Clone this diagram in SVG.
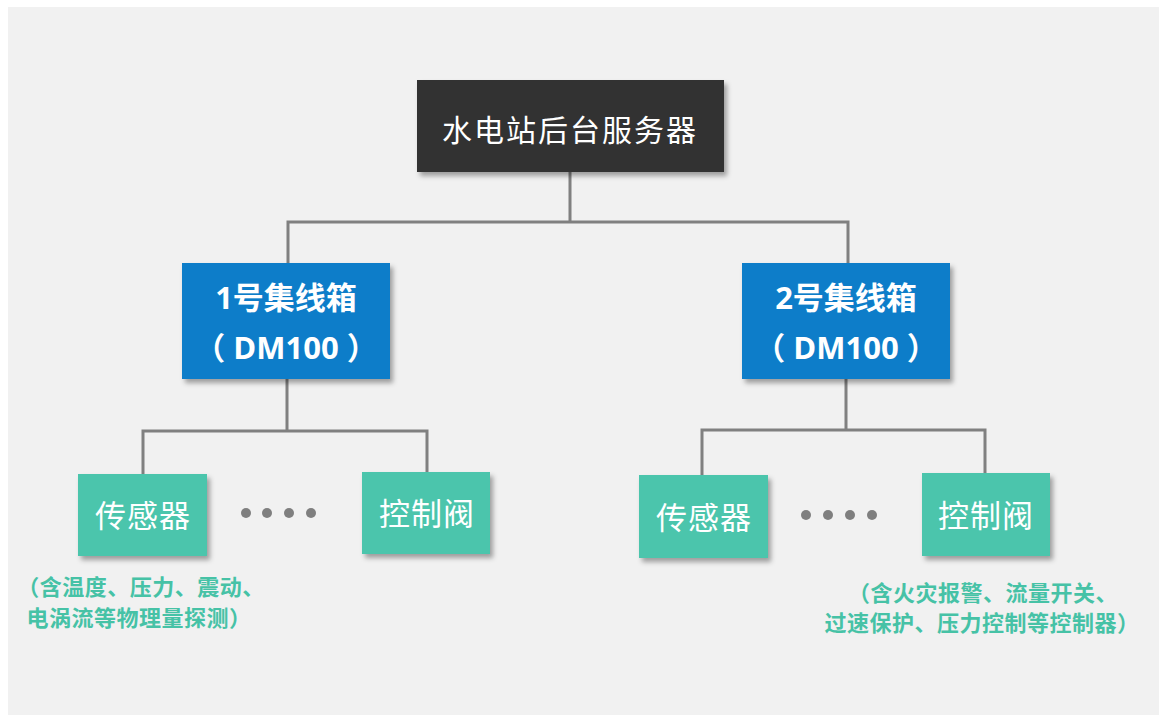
<svg xmlns="http://www.w3.org/2000/svg" width="1159" height="715" viewBox="0 0 1159 715">
<defs>
<filter id="sh" x="-10%" y="-10%" width="125%" height="130%">
<feDropShadow dx="3" dy="4" stdDeviation="2.5" flood-color="#000" flood-opacity="0.35"/>
</filter>
<style>
.bg{fill:#f1f1f1}
.dark{fill:#333333}
.blue{fill:#0a7dc9}
.teal{fill:#4bc5ac}
.conn{fill:none;stroke:#808080;stroke-width:3}
.dot{fill:#7f7f7f}
.t{font-family:"Noto Sans CJK SC","Noto Sans",sans-serif;fill:#ffffff;text-anchor:middle}
.tb{font-family:"Open Sans","Noto Sans CJK SC",sans-serif;font-weight:bold;fill:#ffffff;text-anchor:middle;font-size:31px}
.note{font-family:"Noto Sans CJK SC",sans-serif;font-weight:bold;fill:#46c2a6;text-anchor:middle;font-size:22px;letter-spacing:0.5px}
</style>
</defs>
<rect class="bg" x="8" y="7" width="1151" height="708"/>
<g id="connectors">
<path class="conn" d="M570 172V222M288 263V222H848V263"/>
<path class="conn" d="M287 379V431M143 474V431H427V472"/>
<path class="conn" d="M846 379V430M702 476V430H985V473"/>
</g>
<g id="server">
<rect class="dark" x="417" y="80" width="307" height="92" filter="url(#sh)"/>
<text class="t" x="570" y="141" font-size="30" letter-spacing="2">水电站后台服务器</text>
</g>
<g id="hub1">
<rect class="blue" x="182" y="263" width="208" height="116" filter="url(#sh)"/>
<text class="tb" x="286" y="309">1号集线箱</text>
<text class="tb" x="286" y="359">（ DM100 ）</text>
</g>
<g id="hub2">
<rect class="blue" x="742" y="263" width="208" height="116" filter="url(#sh)"/>
<text class="tb" x="846" y="309">2号集线箱</text>
<text class="tb" x="846" y="359">（ DM100 ）</text>
</g>
<g id="sensor1">
<rect class="teal" x="78" y="474" width="129" height="82" filter="url(#sh)"/>
<text class="t" x="143" y="527" font-size="31" letter-spacing="1">传感器</text>
</g>
<g id="dots1">
<circle class="dot" cx="246" cy="513" r="5"/>
<circle class="dot" cx="267" cy="513" r="5"/>
<circle class="dot" cx="289" cy="513" r="5"/>
<circle class="dot" cx="311" cy="513" r="5"/>
</g>
<g id="valve1">
<rect class="teal" x="362" y="472" width="128" height="82" filter="url(#sh)"/>
<text class="t" x="427" y="525" font-size="31" letter-spacing="1">控制阀</text>
</g>
<g id="sensor2">
<rect class="teal" x="639" y="475" width="129" height="83" filter="url(#sh)"/>
<text class="t" x="704" y="529" font-size="31" letter-spacing="1">传感器</text>
</g>
<g id="dots2">
<circle class="dot" cx="806" cy="515" r="5"/>
<circle class="dot" cx="828" cy="515" r="5"/>
<circle class="dot" cx="850" cy="515" r="5"/>
<circle class="dot" cx="872" cy="515" r="5"/>
</g>
<g id="valve2">
<rect class="teal" x="922" y="473" width="128" height="83" filter="url(#sh)"/>
<text class="t" x="986" y="527" font-size="31" letter-spacing="1">控制阀</text>
</g>
<g id="note1">
<text class="note" x="141" y="595">（含温度、压力、震动、</text>
<text class="note" x="139" y="626">电涡流等物理量探测）</text>
</g>
<g id="note2">
<text class="note" x="983" y="601">（含火灾报警、流量开关、</text>
<text class="note" x="982" y="631">过速保护、压力控制等控制器）</text>
</g>
</svg>
